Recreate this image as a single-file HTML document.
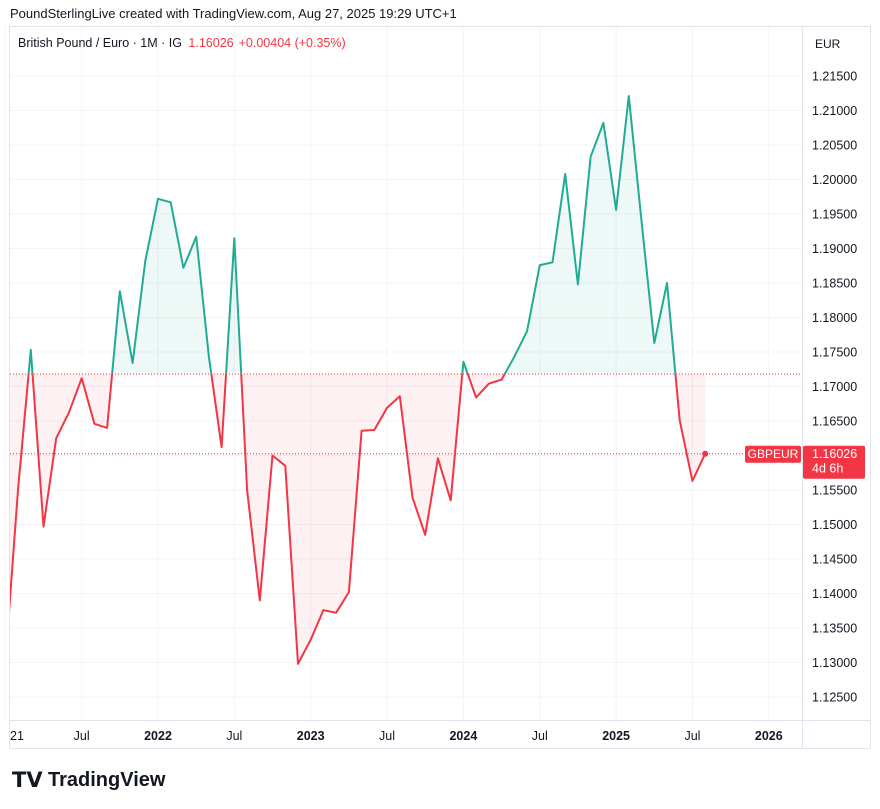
<!DOCTYPE html>
<html><head><meta charset="utf-8"><style>
body{margin:0;background:#fff;font-family:"Liberation Sans",sans-serif;}
svg{display:block}
</style></head><body>
<svg id="c" width="880" height="809" xmlns="http://www.w3.org/2000/svg">
<text x="10" y="18" font-size="13" fill="#131722">PoundSterlingLive created with TradingView.com, Aug 27, 2025 19:29 UTC+1</text>
<rect x="9.5" y="26.5" width="861" height="722" fill="none" stroke="#e0e3eb"/>
<line x1="802.5" y1="26" x2="802.5" y2="749" stroke="#e0e3eb"/>
<line x1="9" y1="720.5" x2="871" y2="720.5" stroke="#e0e3eb"/>
<g id="grid"></g>
<g id="plot"></g>
<g id="yaxis"></g>
<g id="xaxis"></g>
<rect x="806" y="31" width="60" height="26" fill="#fff"/>
<text x="815" y="48" font-size="12" fill="#131722">EUR</text>
<text x="18" y="47" font-size="12.5" fill="#131722">British Pound / Euro · 1M · IG <tspan fill="#f23645" dx="3">1.16026</tspan><tspan fill="#f23645" dx="5">+0.00404 (+0.35%)</tspan></text>
<g>
<text x="12" y="787" font-size="21" font-weight="bold" fill="#131722">𝗧𝗩</text>
<text x="48" y="786" font-size="20" font-weight="bold" fill="#131722">TradingView</text>
</g>
</svg>
<script>
const months=["2021-01","2021-02","2021-03","2021-04","2021-05","2021-06","2021-07","2021-08","2021-09","2021-10","2021-11","2021-12","2022-01","2022-02","2022-03","2022-04","2022-05","2022-06","2022-07","2022-08","2022-09","2022-10","2022-11","2022-12","2023-01","2023-02","2023-03","2023-04","2023-05","2023-06","2023-07","2023-08","2023-09","2023-10","2023-11","2023-12","2024-01","2024-02","2024-03","2024-04","2024-05","2024-06","2024-07","2024-08","2024-09","2024-10","2024-11","2024-12","2025-01","2025-02","2025-03","2025-04","2025-05","2025-06","2025-07","2025-08"];
const closes=[1.130,1.155,1.1753,1.1497,1.1625,1.1662,1.1712,1.1646,1.164,1.1838,1.1734,1.1882,1.1972,1.1967,1.1872,1.1917,1.1743,1.1612,1.1915,1.155,1.139,1.160,1.1585,1.1298,1.1333,1.1376,1.1372,1.1402,1.1636,1.1637,1.1669,1.1686,1.1539,1.1485,1.1596,1.1535,1.1736,1.1684,1.1704,1.171,1.1743,1.178,1.1876,1.188,1.2008,1.1848,1.2033,1.2082,1.1956,1.2121,1.194,1.1763,1.185,1.1651,1.1563,1.16026];
const baseline=1.1718;
const yTicks=[1.125,1.13,1.135,1.14,1.145,1.15,1.155,1.16,1.165,1.17,1.175,1.18,1.185,1.19,1.195,1.2,1.205,1.21,1.215];
const xTickLabels=["21","Jul","2022","Jul","2023","Jul","2024","Jul","2025","Jul","2026"];
const xTickMonths=["2021-01","2021-07","2022-01","2022-07","2023-01","2023-07","2024-01","2024-07","2025-01","2025-07","2026-01"];
const NS="http://www.w3.org/2000/svg";
const L=10,R=802,T=27,B=720;
function y(v){return 76+(1.215-v)/0.005*34.5;}
function mi(s){const [a,b]=s.split("-").map(Number);return (a-2022)*12+(b-1);}
function x(s){return 158+mi(s)*152.7/12;}
function el(t,a,p){const e=document.createElementNS(NS,t);for(const k in a)e.setAttribute(k,a[k]);p.appendChild(e);return e;}
const grid=document.getElementById('grid'),plot=document.getElementById('plot'),ya=document.getElementById('yaxis'),xa=document.getElementById('xaxis');
const lastV=closes[closes.length-1];
yTicks.forEach(v=>{
 const g=el('line',{x1:L,x2:R,y1:y(v),y2:y(v),stroke:'#f3f4f8'},grid);
 
 
 if(Math.abs(y(v)-y(lastV))<18)return;
 const t=el('text',{x:812,y:y(v)+4.5,'font-size':12.5,fill:'#131722'},ya);
 t.textContent=v.toFixed(5);
 
 
});
xTickMonths.forEach((m,i)=>{
 const xx=x(m);
 const g=el('line',{x1:xx,x2:xx,y1:T,y2:B,stroke:'#f3f4f8'},grid);
 
 
 const lab=xTickLabels[i];const yr=/^\d{4}$/.test(lab);
 const t=el('text',{x:i==0?10:xx,y:740,'font-size':12.5,fill:'#131722','text-anchor':i==0?'start':'middle','font-weight':yr?'bold':'normal'},xa);
 t.textContent=lab;
 
 
});
const defs=el('defs',{},plot);
const by=y(baseline);
const cp=el('clipPath',{id:'plotclip'},defs);el('rect',{x:L,y:T,width:R-L,height:B-T},cp);
const ca=el('clipPath',{id:'above'},defs);el('rect',{x:0,y:0,width:880,height:by},ca);
const cb=el('clipPath',{id:'below'},defs);el('rect',{x:0,y:by,width:880,height:809},cb);
const g=el('g',{'clip-path':'url(#plotclip)'},plot);
const pts=months.map((m,i)=>[x(m),y(closes[i])]);
const lineD='M'+pts.map(p=>p[0].toFixed(1)+','+p[1].toFixed(1)).join('L');
const areaD=lineD+'L'+pts[pts.length-1][0].toFixed(1)+','+by+'L'+pts[0][0].toFixed(1)+','+by+'Z';
let e=el('path',{d:areaD,fill:'rgba(34,171,148,0.08)','clip-path':'url(#above)'},g);


e=el('path',{d:areaD,fill:'rgba(242,54,69,0.07)','clip-path':'url(#below)'},g);


e=el('line',{x1:L,x2:R,y1:by,y2:by,stroke:'#f23645','stroke-width':1,'stroke-dasharray':'1,2'},g);


const ly=y(lastV);
e=el('line',{x1:L,x2:R,y1:ly,y2:ly,stroke:'#f23645','stroke-dasharray':'1,2'},g);


e=el('path',{d:lineD,fill:'none',stroke:'#22ab94','stroke-width':2,'stroke-linejoin':'round','clip-path':'url(#above)'},g);


e=el('path',{d:lineD,fill:'none',stroke:'#f23645','stroke-width':2,'stroke-linejoin':'round','clip-path':'url(#below)'},g);


const lp=pts[pts.length-1];
e=el('circle',{cx:lp[0],cy:lp[1],r:3,fill:'#f23645'},g);


e=el('rect',{x:745,y:ly-8,width:56,height:17,rx:2,fill:'#f23645'},plot);


e=el('text',{x:773,y:ly+4.5,'font-size':12,fill:'#fff','text-anchor':'middle'},plot);
e.textContent='GBPEUR';


e=el('rect',{x:803,y:ly-8,width:62,height:33,rx:2,fill:'#f23645'},plot);


e=el('text',{x:812,y:ly+4.5,'font-size':12.5,fill:'#fff'},plot);
e.textContent=lastV.toFixed(5);


e=el('text',{x:812,y:ly+19,'font-size':12.5,fill:'#fff'},plot);
e.textContent='4d 6h';


</script>
</body></html>
